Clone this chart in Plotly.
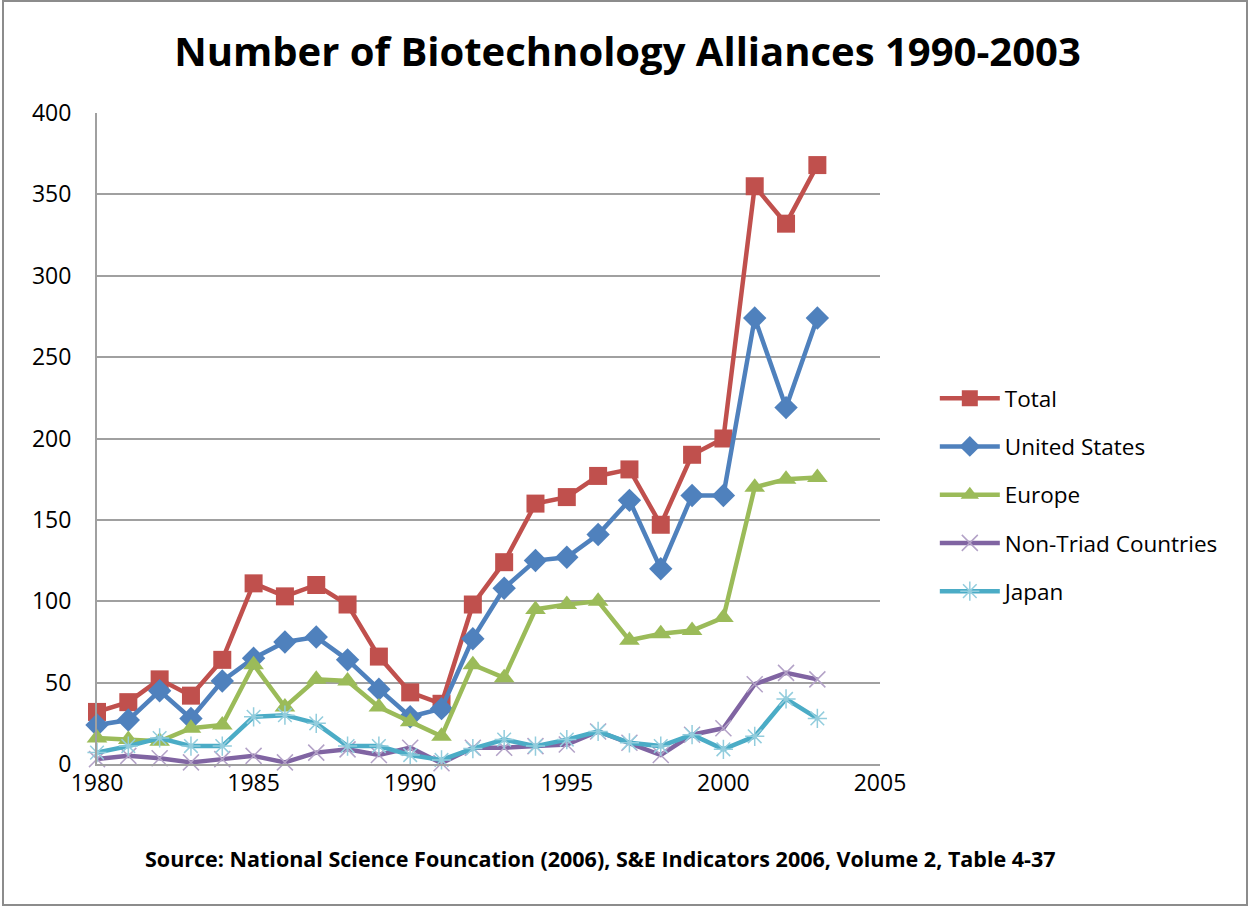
import plotly.graph_objects as go

years = list(range(1980, 2004))
total = [32, 38, 52, 42, 64, 111, 103, 110, 98, 66, 44, 37, 98, 124, 160, 164, 177, 181, 147, 190, 200, 355, 332, 368]
united_states = [24, 27, 45, 28, 51, 65, 75, 78, 64, 46, 29, 34, 77, 108, 125, 127, 141, 162, 120, 165, 165, 274, 219, 274]
europe = [16, 15, 14, 22, 24, 61, 35, 52, 51, 35, 26, 17, 61, 53, 95, 98, 100, 76, 80, 82, 90, 170, 175, 176]
non_triad = [3, 5, 3.5, 1, 3, 5, 1, 7, 9, 5.5, 10, 0.5, 10, 10, 11, 12, 20, 13, 5.5, 18, 22, 49, 56, 52]
japan = [7, 11, 16, 11, 11, 29, 30, 25, 11, 11, 5.5, 2.5, 9.5, 15, 11, 15, 20, 13, 11, 18, 9, 17, 40, 28]

FONT = "'Open Sans', Lato, sans-serif"

series = [
    ("Total", total, "#C0504D", dict(symbol="square", size=18, color="#C0504D")),
    ("United States", united_states, "#4F81BD", dict(symbol="diamond", size=18, color="#4F81BD")),
    ("Europe", europe, "#9BBB59", dict(symbol="triangle-up", size=18, color="#9BBB59")),
    ("Non-Triad Countries", non_triad, "#8064A2",
     dict(symbol="x-thin-open", size=16, color="#B3A2C7", line=dict(color="#B3A2C7", width=1.5))),
    ("Japan", japan, "#4BACC6",
     dict(symbol="asterisk-open", size=16, color="#93CDDD", line=dict(color="#93CDDD", width=1.5))),
]

fig = go.Figure()
for name, vals, col, mk in series:
    fig.add_trace(go.Scatter(
        x=years, y=vals, name=name, mode="lines+markers",
        line=dict(color=col, width=4.5), marker=mk, cliponaxis=False,
        legendgroup=name,
    ))

fig.update_layout(
    width=1249, height=907,
    paper_bgcolor="white", plot_bgcolor="white",
    margin=dict(l=97, r=369, t=113, b=143),
    font=dict(family=FONT, color="#000000"),
    title=dict(text="<b>Number of Biotechnology Alliances 1990-2003</b>",
               x=(627.5) / 1249, xanchor="center", y=1 - 52 / 907, yanchor="middle",
               font=dict(size=40, family=FONT, color="#000000")),
    xaxis=dict(range=[1980, 2005], tickmode="linear", tick0=1980, dtick=5,
               showgrid=False, zeroline=False, showline=True, linecolor="#A0A0A0", linewidth=2,
               ticks="", tickfont=dict(size=23), ticklabelstandoff=-3),
    yaxis=dict(range=[0, 400], tickmode="linear", tick0=0, dtick=50,
               showgrid=True, gridcolor="#A0A0A0", gridwidth=1.5, zeroline=False,
               showline=True, linecolor="#A0A0A0", linewidth=2,
               ticks="", tickfont=dict(size=23), ticklabelstandoff=19),
    legend=dict(x=1.07, xanchor="left", y=(764 - 495) / 651, yanchor="middle",
                font=dict(size=22.5), tracegroupgap=16, itemwidth=60,
                bgcolor="rgba(0,0,0,0)"),
    showlegend=True,
)

fig.add_annotation(
    text="<b>Source: National Science Founcation (2006), S&E Indicators 2006, Volume 2, Table 4-37</b>",
    xref="paper", yref="paper", x=(600 - 97) / 783, y=(764 - 858) / 651,
    xanchor="center", yanchor="middle", showarrow=False,
    font=dict(size=21.5, family=FONT, color="#000000"),
)

fig.add_shape(type="rect", xref="paper", yref="paper",
              x0=(3 - 97) / 783, x1=(1247 - 97) / 783,
              y0=(764 - 905) / 651, y1=(764 - 1) / 651,
              line=dict(color="#8C8C8C", width=2), fillcolor="rgba(0,0,0,0)", layer="below")

fig.write_html("out.html", config={"displayModeBar": False},
               post_script="document.body.style.margin='0px';document.body.style.overflow='hidden';")
